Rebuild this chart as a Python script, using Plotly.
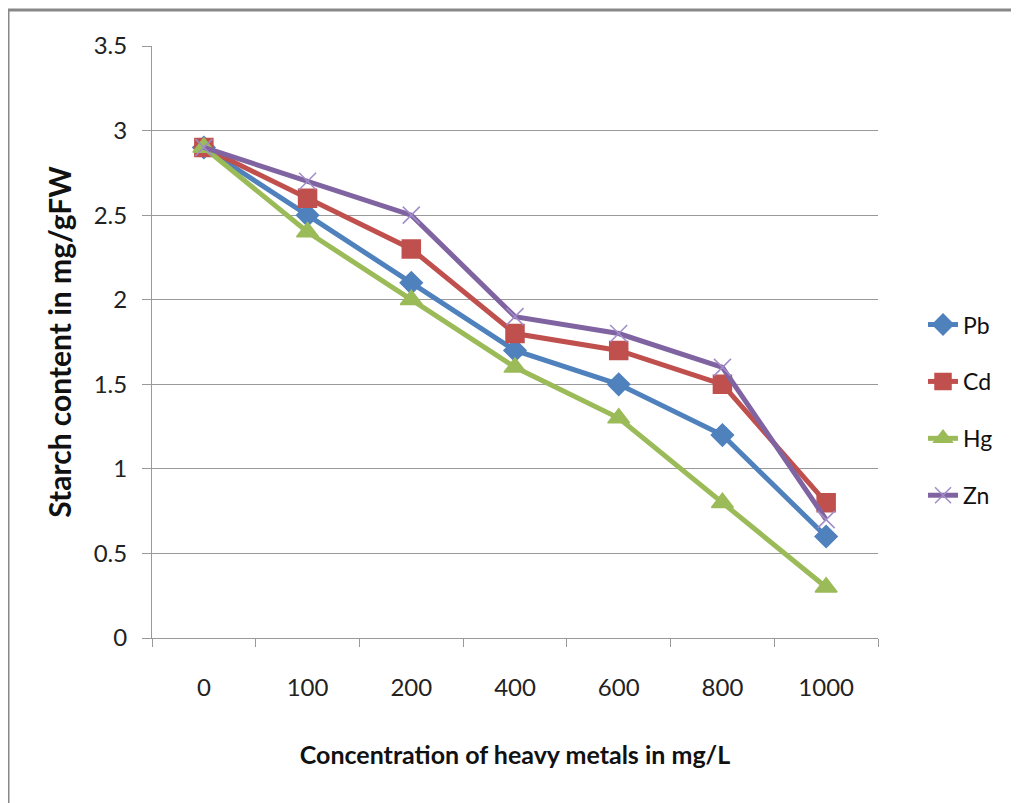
import plotly.graph_objects as go

categories = ["0", "100", "200", "400", "600", "800", "1000"]
pb = [2.9, 2.5, 2.1, 1.7, 1.5, 1.2, 0.6]
cd = [2.9, 2.6, 2.3, 1.8, 1.7, 1.5, 0.8]
hg = [2.9, 2.4, 2.0, 1.6, 1.3, 0.8, 0.3]
zn = [2.9, 2.7, 2.5, 1.9, 1.8, 1.6, 0.7]
y_ticks = [0, 0.5, 1, 1.5, 2, 2.5, 3, 3.5]
y_labels = ["0", "0.5", "1", "1.5", "2", "2.5", "3", "3.5"]

FONT = "Lato"

series = [
    ("Pb", pb, "#4F81BD", "diamond", 17),
    ("Cd", cd, "#C0504D", "square", 18),
    ("Hg", hg, "#9BBB59", "triangle-up", 19),
    ("Zn", zn, "#8064A2", "x-thin", 17),
]

fig = go.Figure()
for i, (name, vals, color, sym, size) in enumerate(series):
    fig.add_trace(go.Scatter(
        x=categories, y=vals, name=name, mode="lines+markers",
        line=dict(color=color, width=5),
        marker=dict(symbol=sym, size=size, color=color,
                    line=dict(color=color if sym != "x-thin" else "#A08CC8", width=1.5)),
        legendgroup=name,
    ))

fig.update_layout(
    width=1011, height=795,
    margin=dict(l=144, r=141, t=38, b=165, autoexpand=False),
    paper_bgcolor="white", plot_bgcolor="white",
    font=dict(family=FONT, size=18, color="#222"),
    showlegend=True,
    legend=dict(x=1.062, y=0.385, xanchor="left", yanchor="middle",
                traceorder="grouped", tracegroupgap=24,
                font=dict(family=FONT, size=23, color="#111"),
                bgcolor="rgba(0,0,0,0)"),
    xaxis=dict(type="category", range=[-0.5, 6.5], tickson="boundaries",
               ticks="outside", ticklen=8, tickcolor="#999", tickwidth=1,
               showline=True, linecolor="#999", linewidth=1,
               showgrid=False, tickfont=dict(size=24, color="#222"),
               ticklabelstandoff=28,
               title=dict(text="<b>Concentration of heavy metals in mg/L</b>",
                          font=dict(size=25, color="#111"), standoff=46)),
    yaxis=dict(range=[0, 3.5], tickvals=y_ticks, ticktext=y_labels,
               ticks="outside", ticklen=9, tickcolor="#999",
               showline=True, linecolor="#999", linewidth=1,
               showgrid=True, gridcolor="#999", gridwidth=1,
               zeroline=False, tickfont=dict(size=24, color="#222"),
               ticklabelstandoff=10,
               title=dict(text="<b>Starch content in mg/gFW</b>",
                          font=dict(size=30, color="#111"), standoff=13)),
    shapes=[
        dict(type="line", xref="paper", yref="paper",
             x0=-144/726, x1=(1019-152)/726 + 0.01,
             y0=(638-10)/592, y1=(638-10)/592,
             line=dict(color="#888", width=3)),
        dict(type="line", xref="paper", yref="paper",
             x0=-144/726, x1=-144/726,
             y0=(638-10)/592, y1=-(803-638)/592 - 0.01,
             line=dict(color="#888", width=3)),
    ],
)

fig.write_html("out.html")
